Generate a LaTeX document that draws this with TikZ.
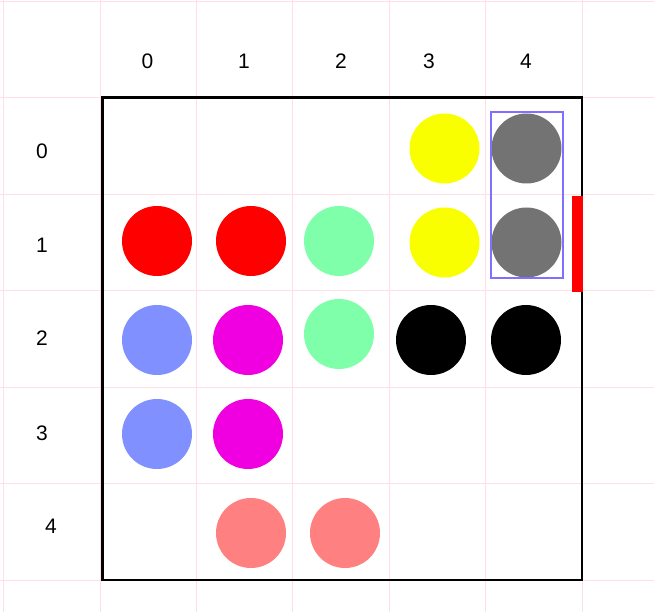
\documentclass[tikz,border=0pt]{standalone}
\usepackage{fontspec}
\setmainfont{Liberation Sans}
\definecolor{gridpink}{RGB}{255,222,230}
\definecolor{cyel}{RGB}{250,255,0}
\definecolor{cgray}{RGB}{115,115,115}
\definecolor{cred}{RGB}{255,0,0}
\definecolor{cgreen}{RGB}{128,255,170}
\definecolor{cblue}{RGB}{128,144,255}
\definecolor{cmag}{RGB}{240,0,224}
\definecolor{csalmon}{RGB}{255,128,128}
\definecolor{crect}{RGB}{128,112,255}
\tikzset{
  dot/.style={circle, minimum size=70pt, inner sep=0pt, draw=none},
  lbl/.style={font=\fontsize{21}{24}\selectfont, inner sep=0pt},
}
\begin{document}
\begin{tikzpicture}[x=1pt,y=-1pt]
\useasboundingbox (0,0) rectangle (654,612);
\fill[white] (0,0) rectangle (654,612);
% background grid
\foreach \k in {0,...,6} {
  \draw[gridpink, line width=0.8pt] ({3.6+96.4*\k},0) -- ({3.6+96.4*\k},612);
  \draw[gridpink, line width=0.8pt] (0,{1.5+96.4*\k}) -- (654,{1.5+96.4*\k});
}
% column labels
\node[lbl] (c0) at (147.5,61) {0};
\node[lbl] (c1) at (244,61) {1};
\node[lbl] (c2) at (341,61) {2};
\node[lbl] (c3) at (429,61) {3};
\node[lbl] (c4) at (526,61) {4};
% row labels
\node[lbl] (r0) at (42,151) {0};
\node[lbl] (r1) at (42,245) {1};
\node[lbl] (r2) at (42,338) {2};
\node[lbl] (r3) at (42,433) {3};
\node[lbl] (r4) at (51,526) {4};
% board
\draw[black, line width=2.4pt] (102.5,97.5) rectangle (582,580);
% pieces
\node[dot, fill=cyel] (y0) at (444.5,148.5) {};
\node[dot, fill=cgray] (g0) at (526.5,148.5) {};
\node[dot, fill=cred] (a1) at (157,241) {};
\node[dot, fill=cred] (b1) at (251,241) {};
\node[dot, fill=cgreen] (gr1) at (339,241) {};
\node[dot, fill=cyel] (y1) at (444.5,242.5) {};
\node[dot, fill=cgray] (g1) at (526.5,242.5) {};
\node[dot, fill=cblue] (bl2) at (157,340) {};
\node[dot, fill=cmag] (m2) at (248,340) {};
\node[dot, fill=cgreen] (gr2) at (339,334) {};
\node[dot, fill=black] (k2a) at (431,340) {};
\node[dot, fill=black] (k2b) at (526,340) {};
\node[dot, fill=cblue] (bl3) at (157,434) {};
\node[dot, fill=cmag] (m3) at (248,434) {};
\node[dot, fill=csalmon] (s4a) at (251,533) {};
\node[dot, fill=csalmon] (s4b) at (345,533) {};
% selection rectangle
\draw[crect, line width=1.6pt] (490.7,112.3) rectangle (562.7,278.3);
% red marker
\fill[cred] (572,196) rectangle (582.5,292);
\end{tikzpicture}
\end{document}
